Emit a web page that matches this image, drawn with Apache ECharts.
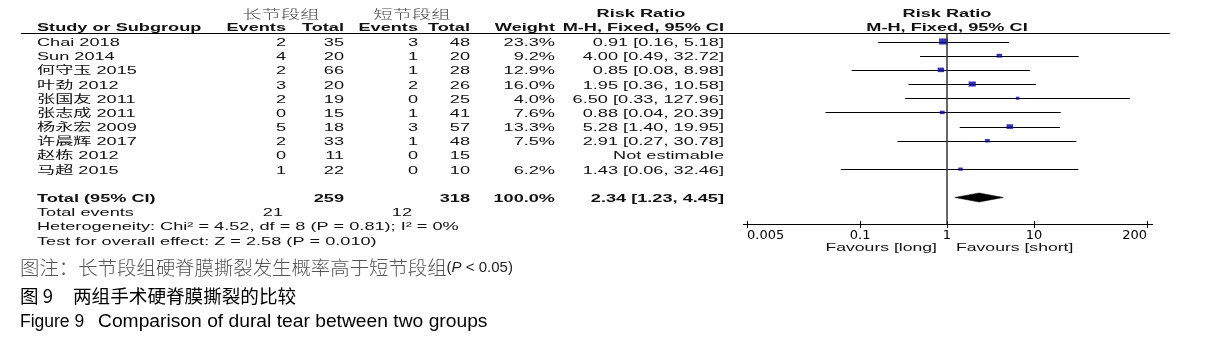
<!DOCTYPE html>
<html><head><meta charset="utf-8">
<script src="https://cdn.jsdelivr.net/npm/echarts@6/dist/echarts.min.js"></script>
<style>html,body{margin:0;padding:0;background:#fff}#c{width:1213px;height:344px}</style>
</head><body><div id="c"></div>
<script>
// ---------------- data ----------------
const studies = ['Chai 2018','Sun 2014','何守玉 2015','叶劲 2012','张国友 2011','张志成 2011','杨永宏 2009','许晨辉 2017','赵栋 2012','马超 2015'];
const longEvents  = [2,4,2,3,2,0,5,2,0,1];
const longTotal   = [35,20,66,20,19,15,18,33,11,22];
const shortEvents = [3,1,1,2,0,1,3,1,0,0];
const shortTotal  = [48,20,28,26,25,41,57,48,15,10];
const weights     = [23.3,9.2,12.9,16.0,4.0,7.6,13.3,7.5,null,6.2];
const rr     = [0.91,4.00,0.85,1.95,6.50,0.88,5.28,2.91,null,1.43];
const rrLow  = [0.16,0.49,0.08,0.36,0.33,0.04,1.40,0.27,null,0.06];
const rrHigh = [5.18,32.72,8.98,10.58,127.96,20.39,19.95,30.78,null,32.46];
const totalLong = 259, totalShort = 318, totalWeight = 100.0;
const eventsLong = 21, eventsShort = 12;
const pooled = [2.34, 1.23, 4.45];
const axisTicks = [0.005, 0.1, 1, 10, 200];
const groupLong = '长节段组', groupShort = '短节段组';
const heterogeneity = 'Heterogeneity: Chi² = 4.52, df = 8 (P = 0.81); I² = 0%';
const overall = 'Test for overall effect: Z = 2.58 (P = 0.010)';
const favLeft = 'Favours [long]', favRight = 'Favours [short]';
const note1 = '图注：长节段组硬脊膜撕裂发生概率高于短节段组';
const note2a = '图 9', note2b = '两组手术硬脊膜撕裂的比较';
const note3a = 'Figure 9', note3b = 'Comparison of dural tear between two groups';

// ---------------- chart ----------------
const chart = echarts.init(document.getElementById('c'));
const LAT = "'Liberation Sans', Arial, 'Noto Sans CJK SC', sans-serif";
const CJK = "'Noto Sans CJK SC', sans-serif";
const SX = 1.65;
const TOTAL_ROW = 11;
const fmt2 = v => v.toFixed(2);
const ciText = i => rr[i] == null ? 'Not estimable' : fmt2(rr[i]) + ' [' + fmt2(rrLow[i]) + ', ' + fmt2(rrHigh[i]) + ']';

const whiskerData = [], squareData = [];
studies.forEach((s, i) => {
  if (rr[i] != null) {
    whiskerData.push([rrLow[i], rrHigh[i], i]);
    squareData.push([rr[i], i, weights[i]]);
  }
});

const xCommon = {type: 'log', logBase: 10, min: axisTicks[0], max: axisTicks[axisTicks.length - 1], gridIndex: 0, position: 'bottom', splitLine: {show: false}};

chart.setOption({
  animation: false,
  grid: {left: 747, right: 66, top: 33, bottom: 120},
  xAxis: [
    Object.assign({}, xCommon, {
      axisLine: {onZero: false, lineStyle: {color: '#000', width: 1}},
      axisTick: {length: 4, customValues: axisTicks, lineStyle: {color: '#000'}},
      axisLabel: {customValues: axisTicks, color: '#000', fontFamily: 'DejaVu Sans', fontSize: 13, margin: 5,
        alignMinLabel: 'left', alignMaxLabel: 'right',
        formatter: v => String(Number(Number(v).toPrecision(6)))},
    }),
    Object.assign({}, xCommon, {
      axisLine: {show: false, onZero: false},
      axisTick: {inside: true, length: 3, customValues: axisTicks, lineStyle: {color: '#000'}},
      axisLabel: {show: false}
    })
  ],
  yAxis: {type: 'value', inverse: true, min: -0.6, max: 12.87, show: false},
  series: [
    {
      type: 'custom', xAxisIndex: 0, data: whiskerData, encode: {x: [0, 1], y: 2}, silent: true,
      renderItem: (params, api) => {
        const p1 = api.coord([api.value(0), api.value(2)]);
        const p2 = api.coord([api.value(1), api.value(2)]);
        const y = Math.round(p1[1]) + 0.5;
        return {type: 'line', shape: {x1: p1[0], y1: y, x2: p2[0], y2: y}, style: {stroke: '#000', lineWidth: 1}};
      }
    },
    {
      type: 'scatter', xAxisIndex: 0, data: squareData, symbol: 'rect', silent: true,
      symbolSize: v => { const w = 1.8 * Math.sqrt(v[2]); return [w, Math.max(3, w * 0.7)]; },
      itemStyle: {color: '#0000a8'},
      markLine: {silent: true, symbol: 'none', label: {show: false},
        lineStyle: {color: '#333', width: 1.5, type: 'solid'}, data: [{xAxis: 1}]}
    },
    {
      type: 'custom', xAxisIndex: 0, data: [[pooled[0], pooled[1], pooled[2], TOTAL_ROW]], silent: true,
      encode: {x: [0, 1, 2], y: 3},
      renderItem: (params, api) => {
        const r = api.value(3);
        const c = api.coord([api.value(0), r]);
        const l = api.coord([api.value(1), r]);
        const h = api.coord([api.value(2), r]);
        const d = 4.5;
        return {type: 'polygon', shape: {points: [[l[0], c[1]], [c[0], c[1] - d], [h[0], c[1]], [c[0], c[1] + d]]},
          style: {fill: '#000', stroke: '#000', lineWidth: 0.5}};
      }
    }
  ]
});

// ---------------- table text ----------------
const rowY = r => chart.convertToPixel({yAxisIndex: 0}, r) + 1.5;
const xOne = chart.convertToPixel({xAxisIndex: 0}, 1);
const xMin = chart.convertToPixel({xAxisIndex: 0}, axisTicks[0]);
const xMax = chart.convertToPixel({xAxisIndex: 0}, axisTicks[axisTicks.length - 1]);
function T(x, y, s, align, o) {
  o = o || {};
  return {type: 'text', x: x, y: y, scaleX: o.sx || SX, silent: true, style: {
    text: s, fontFamily: o.family || LAT, fontSize: o.size || 11, fontWeight: o.weight || (o.bold ? 'bold' : 'normal'),
    fontStyle: o.italic ? 'italic' : 'normal', fill: o.color || '#111',
    align: align, textAlign: align, verticalAlign: 'middle', textVerticalAlign: 'middle'}};
}
const COL = {study: 37, ev1: 286, tot1: 344, ev2: 418, tot2: 470, wt: 555, ci: 724};
const H1 = 14, H2 = 28;
const g = [];
g.push(T(281, H1, groupLong, 'center', {family: CJK, size: 12, color: '#444', sx: 1.6, weight: 300}));
g.push(T(412, H1, groupShort, 'center', {family: CJK, size: 12, color: '#444', sx: 1.6, weight: 300}));
g.push(T(641, H1, 'Risk Ratio', 'center', {bold: true}));
g.push(T(xOne, H1, 'Risk Ratio', 'center', {bold: true}));
g.push(T(COL.study, H2, 'Study or Subgroup', 'left', {bold: true}));
g.push(T(COL.ev1, H2, 'Events', 'right', {bold: true}));
g.push(T(COL.tot1, H2, 'Total', 'right', {bold: true}));
g.push(T(COL.ev2, H2, 'Events', 'right', {bold: true}));
g.push(T(COL.tot2, H2, 'Total', 'right', {bold: true}));
g.push(T(COL.wt, H2, 'Weight', 'right', {bold: true}));
g.push(T(COL.ci, H2, 'M-H, Fixed, 95% CI', 'right', {bold: true}));
g.push(T(xOne, H2, 'M-H, Fixed, 95% CI', 'center', {bold: true}));
g.push({type: 'line', silent: true, shape: {x1: 21, y1: 33.5, x2: 1170, y2: 33.5}, style: {stroke: '#000', lineWidth: 1}});
// axis line runs a little past the end ticks, as in the reference
const axY = Math.round(chart.convertToPixel({yAxisIndex: 0}, 12.87)) + 0.5;
g.push({type: 'line', silent: true, shape: {x1: xMin - 4, y1: axY, x2: xMax + 6, y2: axY}, style: {stroke: '#000', lineWidth: 1}});

studies.forEach((s, i) => {
  const y = rowY(i);
  g.push(T(COL.study, y, s, 'left'));
  g.push(T(COL.ev1, y, String(longEvents[i]), 'right'));
  g.push(T(COL.tot1, y, String(longTotal[i]), 'right'));
  g.push(T(COL.ev2, y, String(shortEvents[i]), 'right'));
  g.push(T(COL.tot2, y, String(shortTotal[i]), 'right'));
  if (weights[i] != null) g.push(T(COL.wt, y, weights[i].toFixed(1) + '%', 'right'));
  g.push(T(COL.ci, y, ciText(i), 'right'));
});
const yt = rowY(TOTAL_ROW);
g.push(T(COL.study, yt, 'Total (95% CI)', 'left', {bold: true}));
g.push(T(COL.tot1, yt, String(totalLong), 'right', {bold: true}));
g.push(T(COL.tot2, yt, String(totalShort), 'right', {bold: true}));
g.push(T(COL.wt, yt, totalWeight.toFixed(1) + '%', 'right', {bold: true}));
g.push(T(COL.ci, yt, fmt2(pooled[0]) + ' [' + fmt2(pooled[1]) + ', ' + fmt2(pooled[2]) + ']', 'right', {bold: true}));
const ye = rowY(TOTAL_ROW + 1);
g.push(T(COL.study, ye, 'Total events', 'left'));
g.push(T(COL.ev1 - 3, ye, String(eventsLong), 'right'));
g.push(T(COL.ev2 - 6, ye, String(eventsShort), 'right'));
g.push(T(COL.study, rowY(TOTAL_ROW + 2), heterogeneity, 'left'));
g.push(T(COL.study, rowY(TOTAL_ROW + 3), overall, 'left'));
g.push(T(xOne - 10, 248, favLeft, 'right', {sx: 1.6}));
g.push(T(xOne + 9, 248, favRight, 'left', {sx: 1.6}));

// ---------------- caption ----------------
g.push({type: 'text', x: 20, y: 268, silent: true, style: {
  text: '{c|' + note1 + '}{l|(}{i|P}{l| < 0.05)}', fill: '#555', verticalAlign: 'middle', textVerticalAlign: 'middle',
  rich: {c: {fontFamily: CJK, fontSize: 19.4, fontWeight: 300, fill: '#555'}, l: {fontFamily: LAT, fontSize: 15, fill: '#222'},
         i: {fontFamily: LAT, fontSize: 15, fontStyle: 'italic', fill: '#222'}}}});
g.push({type: 'text', x: 20, y: 296, silent: true, style: {
  text: note2a, fontFamily: CJK, fontSize: 18.5, fill: '#000', verticalAlign: 'middle', textVerticalAlign: 'middle'}});
g.push({type: 'text', x: 73, y: 296, silent: true, style: {
  text: note2b, fontFamily: CJK, fontSize: 18.6, fill: '#000', verticalAlign: 'middle', textVerticalAlign: 'middle'}});
g.push({type: 'text', x: 20, y: 322, silent: true, style: {
  text: note3a, fontFamily: LAT, fontSize: 17.5, fill: '#000', verticalAlign: 'middle', textVerticalAlign: 'middle'}});
g.push({type: 'text', x: 98, y: 322, scaleX: 1.1, silent: true, style: {
  text: note3b, fontFamily: LAT, fontSize: 17.5, fill: '#000', verticalAlign: 'middle', textVerticalAlign: 'middle'}});

chart.setOption({graphic: g});
</script>
</body></html>
